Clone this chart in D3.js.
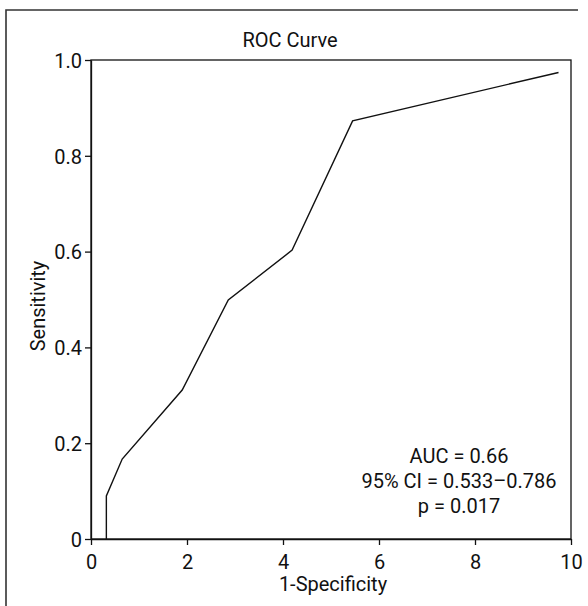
<!DOCTYPE html>
<html>
<head>
<meta charset="utf-8">
<script src="https://cdn.jsdelivr.net/npm/d3@7"></script>
<style>
  body { margin: 0; background: #fff; }
  text { font-family: Roboto, "Liberation Sans", sans-serif; fill: #111; }
</style>
</head>
<body>
<div id="chart"></div>
<script>
// ROC curve points (1-specificity, sensitivity)
var fpr  = [0.32, 0.32, 0.65, 1.90, 2.86, 4.19, 5.45, 9.74];
var sens = [0.0, 0.09, 0.167, 0.311, 0.499, 0.603, 0.873, 0.974];
var xTicks = [0, 2, 4, 6, 8, 10];
var yTicks = [0, 0.2, 0.4, 0.6, 0.8, 1.0];
var statLines = ["AUC = 0.66", "95% CI = 0.533\u20130.786", "p = 0.017"];

var w = 588, h = 606;
var mLeft = 91, mRight = 571, mTop = 60, mBottom = 539;

var svg = d3.select("#chart").append("svg")
  .attr("width", w)
  .attr("height", h);

// figure frame (top + left only, cropped)
svg.append("path")
  .attr("d", "M6,606 L6,10 L578,10")
  .attr("fill", "none")
  .attr("stroke", "#333")
  .attr("stroke-width", 1.6);

var x = d3.scaleLinear().domain([0, 10]).range([mLeft, mRight]);
var y = d3.scaleLinear().domain([0, 1]).range([mBottom, mTop]);

// plot box
svg.append("rect")
  .attr("x", x(0)).attr("y", y(1))
  .attr("width", x(10) - x(0)).attr("height", y(0) - y(1))
  .attr("fill", "none").attr("stroke", "#111").attr("stroke-width", 1.3);

var xAxis = svg.append("g")
  .attr("transform", "translate(0," + mBottom + ")")
  .call(d3.axisBottom(x).tickValues(xTicks).tickSize(6).tickSizeOuter(0).tickFormat(d3.format("d")));

var yAxis = svg.append("g")
  .attr("transform", "translate(" + mLeft + ",0)")
  .call(d3.axisLeft(y).tickValues(yTicks).tickSize(6).tickSizeOuter(0)
    .tickFormat(function(d) { return d === 0 ? "0" : d3.format(".1f")(d); }));

[xAxis, yAxis].forEach(function(g) {
  g.attr("font-family", null).attr("font-size", null);
  g.select(".domain").attr("stroke", "#111").attr("stroke-width", 1.3);
  g.selectAll(".tick line").attr("stroke", "#111").attr("stroke-width", 1.3);
  g.selectAll(".tick text").attr("font-size", 20).attr("fill", "#111");
});
xAxis.selectAll(".tick text").attr("dy", null).attr("y", 30);
yAxis.selectAll(".tick text").attr("x", -9).attr("dy", "0.36em");

// curve
var line = d3.line()
  .x(function(d, i) { return x(fpr[i]); })
  .y(function(d) { return y(d); });

svg.append("path")
  .datum(sens)
  .attr("d", line)
  .attr("fill", "none")
  .attr("stroke", "#111")
  .attr("stroke-width", 1.4);

// title and axis labels
svg.append("text")
  .attr("x", 290).attr("y", 47)
  .attr("text-anchor", "middle")
  .attr("font-size", 20)
  .text("ROC Curve");

svg.append("text")
  .attr("x", 333).attr("y", 591)
  .attr("text-anchor", "middle")
  .attr("font-size", 20)
  .text("1-Specificity");

svg.append("text")
  .attr("transform", "translate(45,306) rotate(-90)")
  .attr("text-anchor", "middle")
  .attr("font-size", 20)
  .text("Sensitivity");

// stats
svg.selectAll(".stat")
  .data(statLines)
  .enter().append("text")
  .attr("class", "stat")
  .attr("x", 459)
  .attr("y", function(d, i) { return 463 + i * 25; })
  .attr("text-anchor", "middle")
  .attr("font-size", 20)
  .text(function(d) { return d; });
</script>
</body>
</html>
